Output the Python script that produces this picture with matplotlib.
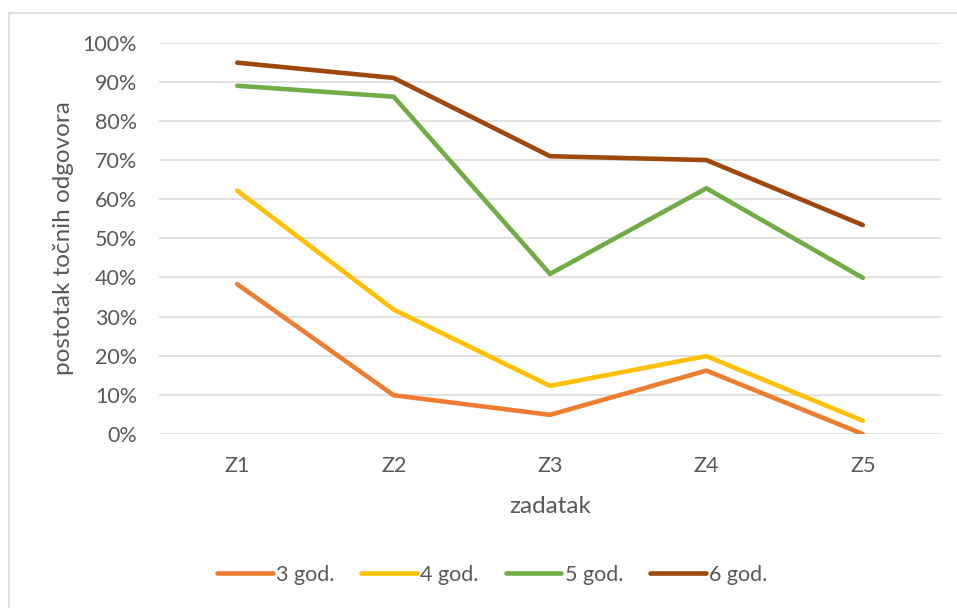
import matplotlib
matplotlib.use("Agg")
import matplotlib.pyplot as plt
from matplotlib.lines import Line2D
from matplotlib.ticker import PercentFormatter

categories = ["Z1", "Z2", "Z3", "Z4", "Z5"]
series_names = ["3 god.", "4 god.", "5 god.", "6 god."]
god3 = [38.3, 9.9, 4.9, 16.2, 0.0]
god4 = [62.2, 31.8, 12.3, 19.9, 3.4]
god5 = [89.0, 86.2, 40.9, 62.8, 39.9]
god6 = [94.9, 91.0, 71.0, 70.0, 53.4]
colors = ["#ED7D31", "#FFC000", "#70AD47", "#9E480E"]
yticks = [0, 10, 20, 30, 40, 50, 60, 70, 80, 90, 100]

plt.rcParams['font.family'] = ['Lato', 'DejaVu Sans']
txt = "#595959"

fig = plt.figure(figsize=(9.57, 6.08), dpi=100)
fig.patch.set_facecolor("white")
ax = fig.add_axes([159/957, 1-434/608, (941-159)/957, (434-42.7)/608])

x = list(range(len(categories)))
for name, vals, c in zip(series_names, [god3, god4, god5, god6], colors):
    ax.plot(x, vals, color=c, lw=3.3, label=name, solid_capstyle="round", solid_joinstyle="round")

ax.set_xlim(-0.5, len(categories) - 0.5)
ax.set_ylim(0, 100)
ax.set_yticks(yticks)
ax.yaxis.set_major_formatter(PercentFormatter(decimals=0))
ax.set_xticks(x)
ax.set_xticklabels(categories)
ax.grid(axis="y", color="#D9D9D9", lw=1.1)
ax.set_axisbelow(True)
for s in ax.spines.values():
    s.set_visible(False)
ax.tick_params(axis="both", length=0, colors=txt, labelsize=15.5)
ax.tick_params(axis="y", pad=15.8)
ax.tick_params(axis="x", pad=15.5)
ax.set_xlabel("zadatak", color=txt, fontsize=17.5, labelpad=15)
ax.set_ylabel("postotak točnih odgovora", color=txt, fontsize=17.5, labelpad=6)

fig.legend(loc="center", bbox_to_anchor=(492/957, 1-575/608), ncol=4, frameon=False,
           fontsize=15.5, handlelength=2.6, handletextpad=0.14, columnspacing=1.25,
           labelcolor=txt)

# chart border (top and left visible)
fig.add_artist(Line2D([9/957, 1], [1-13/608, 1-13/608], color="#D9D9D9", lw=1.2, transform=fig.transFigure))
fig.add_artist(Line2D([9/957, 9/957], [0, 1-13/608], color="#D9D9D9", lw=1.2, transform=fig.transFigure))

fig.savefig("out.png", dpi=100, facecolor="white")
